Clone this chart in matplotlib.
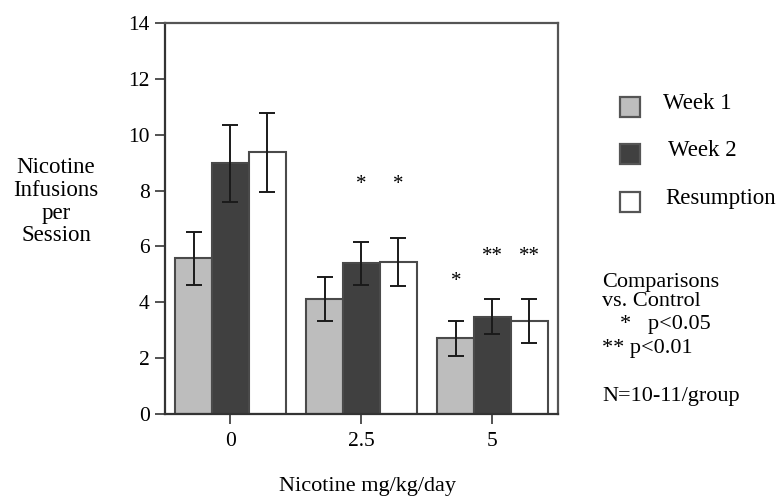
import numpy as np
import matplotlib.pyplot as plt
from matplotlib.patches import Rectangle

plt.rcParams['font.family'] = ['Liberation Serif', 'DejaVu Serif']

doses = ['0', '2.5', '5']
series = ['Week 1', 'Week 2', 'Resumption']
colors = ['#bdbdbd', '#404040', '#ffffff']

week1 = [5.58, 4.11, 2.71]
week2 = [8.97, 5.39, 3.48]
resumption = [9.37, 5.45, 3.32]
week1_err = [0.95, 0.78, 0.63]
week2_err = [1.39, 0.77, 0.63]
resumption_err = [1.41, 0.85, 0.79]

# significance marks (group index, series index, text, y)
stars = [(1, 1, '*', 8.2), (1, 2, '*', 8.2),
         (2, 0, '*', 4.75), (2, 1, '**', 5.65), (2, 2, '**', 5.65)]

fig = plt.figure(figsize=(7.79, 5.04), dpi=100)
ax = fig.add_axes([0.2118, 0.1786, 0.5045, 0.7758])

x = np.arange(len(doses))
w = 0.28
vals = [week1, week2, resumption]
errs = [week1_err, week2_err, resumption_err]
for i, (v, e, c) in enumerate(zip(vals, errs, colors)):
    pos = x + (i - 1) * w
    ax.bar(pos, v, width=w, color=c, edgecolor='#4a4a4a', linewidth=1.5, zorder=2)
    ax.errorbar(pos, v, yerr=e, fmt='none', ecolor='#1a1a1a', elinewidth=1.4,
                capsize=5.5, capthick=1.4, zorder=3)

for g, s, txt, y in stars:
    ax.text(x[g] + (s - 1) * w, y, txt, ha='center', va='center', fontsize=15)

ax.set_xlim(-0.5, 2.5)
ax.set_ylim(0, 14)
ax.set_yticks(np.arange(0, 15, 2))
ax.set_xticks(x)
ax.set_xticklabels(doses)
ax.tick_params(axis='both', labelsize=15.5, length=7, width=1.3, color='#444444')
ax.tick_params(axis='x', pad=6)
ax.tick_params(axis='y', pad=4)
for sp in ax.spines.values():
    sp.set_color('#555555')
    sp.set_linewidth(1.6)
ax.spines['bottom'].set_color('#333333')
ax.spines['left'].set_color('#333333')

fig.text(0.472, 0.035, 'Nicotine mg/kg/day', ha='center', va='center', fontsize=16)
fig.text(0.072, 0.60, 'Nicotine\nInfusions\nper\nSession', ha='center', va='center',
         fontsize=16.5, linespacing=1.12)

# legend drawn by hand to keep the wide spacing
leg_y = [107, 154, 202]
leg_tx = [663, 668, 665]
for name, c, yy, tx in zip(series, colors, leg_y, leg_tx):
    fig.patches.append(Rectangle((620 / 779, 1 - (yy + 10) / 504), 20 / 779, 20 / 504,
                                 transform=fig.transFigure, facecolor=c,
                                 edgecolor='#555555', linewidth=1.6))
    fig.text(tx / 779, 1 - (yy - 3) / 504, name, ha='left', va='center', fontsize=16.5)

notes = [(602, 282, 'Comparisons'), (602, 302, 'vs. Control'),
         (620, 325, '*   p<0.05'), (602, 348, '** p<0.01'), (602, 397, 'N=10-11/group')]
for nx, ny, t in notes:
    fig.text(nx / 779, 1 - ny / 504, t, ha='left', va='center', fontsize=16)

fig.savefig('out.png', dpi=100)
